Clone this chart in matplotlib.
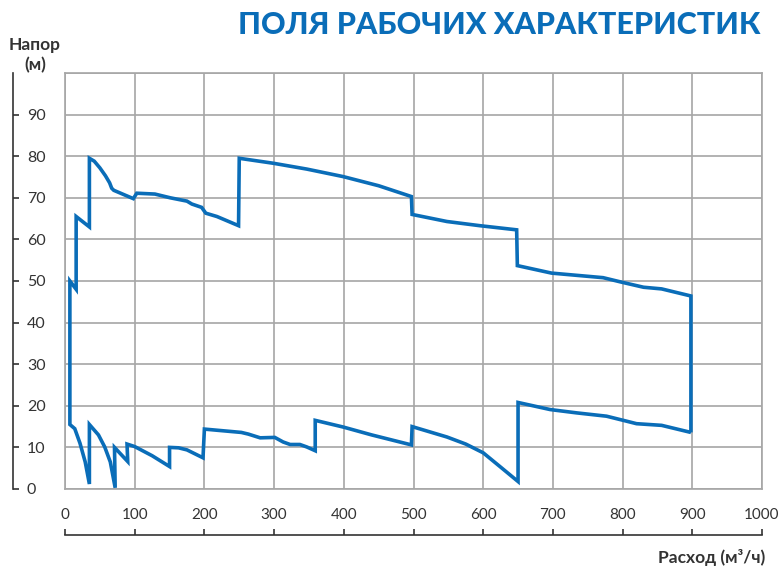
import matplotlib
matplotlib.use("Agg")
import matplotlib.pyplot as plt
from matplotlib.ticker import MultipleLocator

plt.rcParams['font.family'] = ['Lato', 'DejaVu Sans']

# Upper boundary of the operating field (flow m3/h, head m)
upper_q = [7, 7, 16, 16, 35, 35, 42, 50, 58, 64, 67, 70, 98, 103, 129, 151, 175, 182,
           196, 202, 218, 249, 250, 299, 347, 399, 450, 497, 498, 548, 595, 648, 649,
           698, 772, 799, 830, 856, 898, 898]
upper_h = [15.5, 50, 48, 65.5, 63, 79.5, 78.8, 77.2, 75.3, 73.6, 72.3, 71.8, 69.8, 71.1,
           70.9, 70.0, 69.2, 68.5, 67.7, 66.3, 65.5, 63.3, 79.5, 78.3, 76.9, 75.1, 72.9,
           70.3, 66.0, 64.3, 63.3, 62.3, 53.7, 51.9, 50.8, 49.7, 48.5, 48.1, 46.4, 13.6]

# Lower boundary (left to right)
lower_q = [7, 14, 21.5, 29, 35, 35, 48, 57, 65, 72, 71, 90, 89, 100, 125, 150, 150, 163,
           175, 198, 200, 253, 263, 280, 301, 313, 323, 337, 347, 359, 359, 399, 440, 497,
           498, 548, 575, 600, 624, 650, 650, 696, 734, 777, 801, 820, 856, 898]
lower_h = [15.5, 14.5, 11.0, 6.5, 1.2, 15.5, 13.0, 10.1, 6.5, 0.3, 10.0, 6.6, 10.8, 10.2,
           8.0, 5.4, 10.0, 9.9, 9.4, 7.5, 14.4, 13.6, 13.2, 12.3, 12.4, 11.3, 10.7, 10.7,
           10.1, 9.2, 16.5, 14.9, 13.0, 10.6, 15.0, 12.5, 10.8, 8.7, 5.4, 1.8, 20.8, 19.1,
           18.3, 17.5, 16.5, 15.7, 15.3, 13.6]

x_ticks = [0, 100, 200, 300, 400, 500, 600, 700, 800, 900, 1000]
y_ticks = [0, 10, 20, 30, 40, 50, 60, 70, 80, 90]

title = "ПОЛЯ РАБОЧИХ ХАРАКТЕРИСТИК"
ylabel = "Напор\n(м)"
xlabel = "Расход (м³/ч)"

BLUE = "#0a6db8"
GRID = "#a6a6a6"
AX = "#333333"

W, H = 779, 568
fig = plt.figure(figsize=(W / 100, H / 100), dpi=100)

# Main grid area
l, r, t, b = 65, 762, 73, 489
ax = fig.add_axes([l / W, 1 - b / H, (r - l) / W, (b - t) / H])
ax.set_xlim(0, 1000)
ax.set_ylim(0, 100)
ax.xaxis.set_major_locator(MultipleLocator(100))
ax.yaxis.set_major_locator(MultipleLocator(10))
ax.grid(True, color=GRID, linewidth=1.2)
ax.tick_params(length=0, labelbottom=False, labelleft=False)
for s in ax.spines.values():
    s.set_color(GRID)
    s.set_linewidth(1.2)
ax.set_axisbelow(True)

path_q = lower_q[::-1] + upper_q
path_h = lower_h[::-1] + upper_h
ax.plot(path_q, path_h, color=BLUE, linewidth=2.6, solid_joinstyle='miter',
        solid_capstyle='butt', zorder=3, clip_on=False)

# Separate y axis at the far left
ay = fig.add_axes([13 / W, 1 - b / H, 0.0001, (b - t) / H])
ay.set_ylim(0, 100)
ay.set_xticks([])
ay.yaxis.tick_right()
ay.set_yticks(y_ticks)
ay.tick_params(axis='y', direction='out', length=4, width=1.2, color=AX,
               labelsize=11.5, labelcolor=AX, pad=6)
for k, s in ay.spines.items():
    s.set_visible(k == 'right')
ay.spines['right'].set_color(AX)
ay.spines['right'].set_linewidth(1.2)
ay.patch.set_visible(False)

# Separate x axis below
axx = fig.add_axes([l / W, 1 - 535 / H, (r - l) / W, 0.0001])
axx.set_xlim(0, 1000)
axx.set_yticks([])
axx.xaxis.tick_top()
axx.set_xticks(x_ticks)
axx.tick_params(axis='x', direction='out', length=4, width=1.2, color=AX,
                labelsize=11, labelcolor=AX, pad=5)
for k, s in axx.spines.items():
    s.set_visible(k == 'top')
axx.spines['top'].set_color(AX)
axx.spines['top'].set_linewidth(1.2)
axx.patch.set_visible(False)

fig.text(760 / W, 1 - 25 / H, title, ha='right', va='center', color=BLUE,
         fontsize=22, fontweight='black')
fig.text(35 / W, 1 - 55 / H, ylabel, ha='center', va='center', color=AX,
         fontsize=12.5, fontweight='bold', linespacing=1.3)
fig.text(765 / W, 1 - 557 / H, xlabel, ha='right', va='center', color=AX,
         fontsize=12.5, fontweight='bold')

fig.savefig("out.png", dpi=100)
